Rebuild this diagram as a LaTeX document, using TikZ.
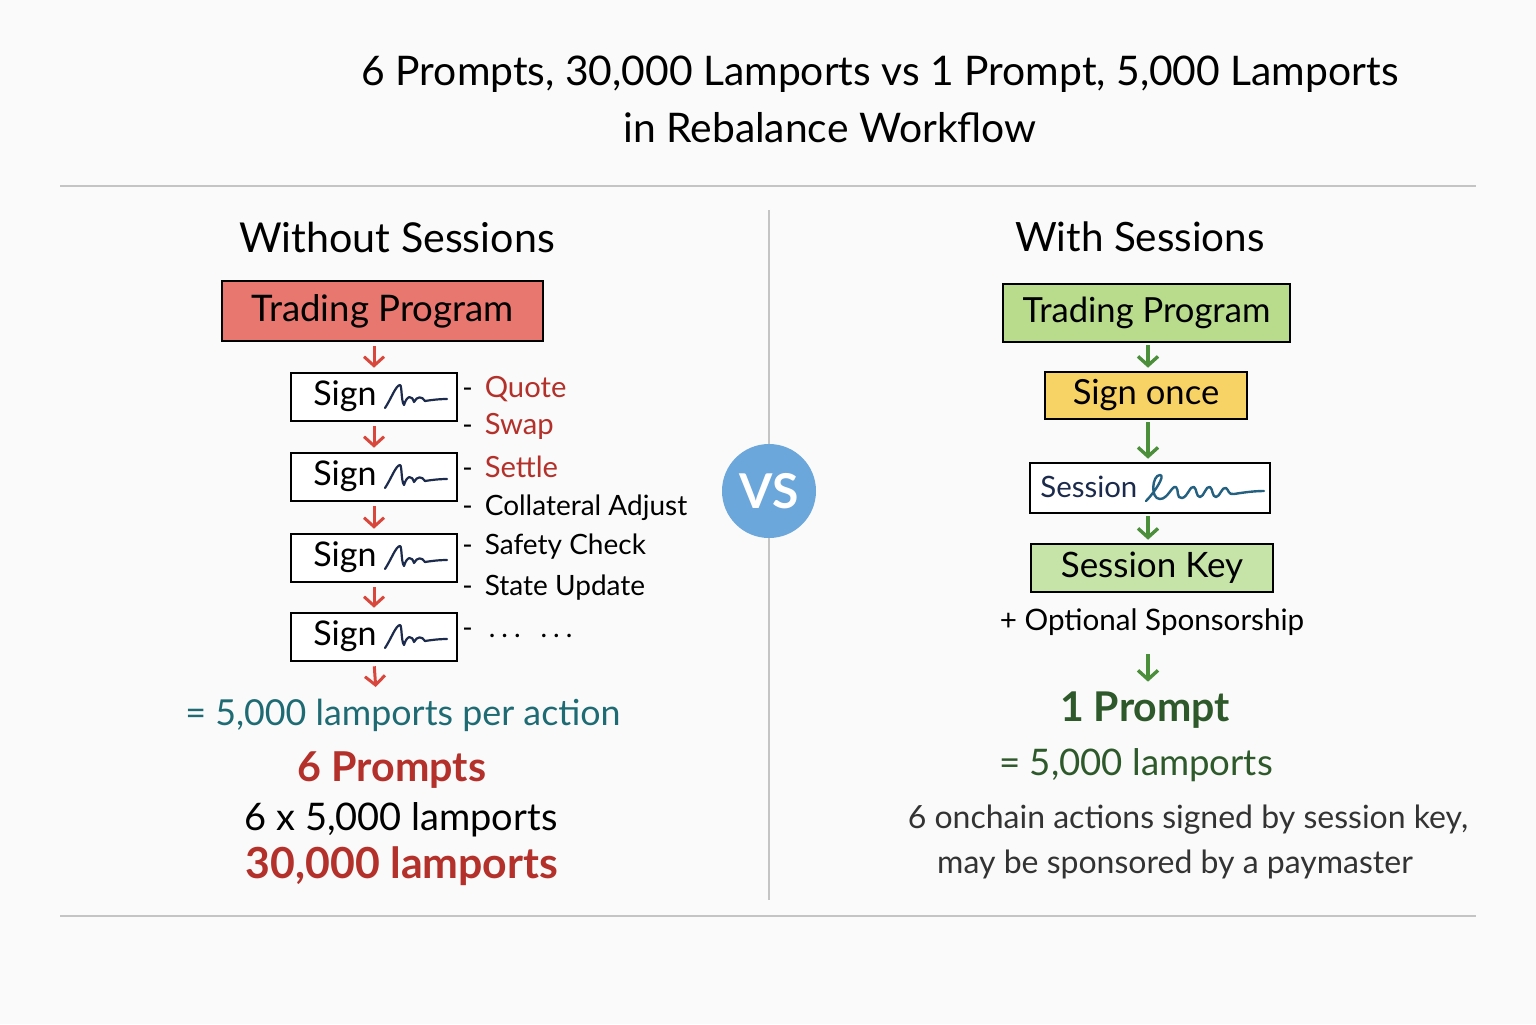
\documentclass[tikz,border=0pt]{standalone}
\usepackage{fontspec}
\usetikzlibrary{arrows.meta}
\setmainfont{Lato}
\definecolor{bgc}{HTML}{FAFAFA}
\definecolor{rulec}{HTML}{C4C4C4}
\definecolor{redfill}{HTML}{E8776F}
\definecolor{greenfill}{HTML}{B8DB8C}
\definecolor{yellowfill}{HTML}{F7D264}
\definecolor{keyfill}{HTML}{C6E3A8}
\definecolor{redtxt}{HTML}{B3312A}
\definecolor{redarrow}{HTML}{D9463B}
\definecolor{greenarrow}{HTML}{4B8F3A}
\definecolor{tealtxt}{HTML}{1F6B74}
\definecolor{dgreen}{HTML}{2E5A2B}
\definecolor{navy}{HTML}{1C2B4C}
\definecolor{sigblue}{HTML}{24607F}
\definecolor{vsblue}{HTML}{6BA7DB}
\definecolor{graytxt}{HTML}{333333}
\begin{document}
\begin{tikzpicture}[x=0.5pt,y=-0.5pt,
  box/.style={draw=black,line width=1.3pt,inner sep=0pt},
  redarr/.style={draw=redarrow,line width=1.5pt,-{Straight Barb[length=4.5pt,width=10pt]},shorten <=2pt,shorten >=2pt},
  grnarr/.style={draw=greenarrow,line width=1.7pt,-{Straight Barb[length=4.5pt,width=10pt]},shorten <=1pt,shorten >=1.5pt},
  item/.style={anchor=west,font=\fontsize{14}{16}\selectfont,inner sep=0pt},
  signature/.pic={
    \draw[navy,line width=1.1pt,line cap=round,line join=round]
      (0,11) .. controls (6,2) and (11,-12) .. (15,-12)
      .. controls (17,-12) and (16,4) .. (19,8)
      .. controls (22,-2) and (27,-2) .. (29,5)
      .. controls (32,-1) and (37,-1) .. (40,4)
      .. controls (46,3) and (54,2) .. (62,2);
  },
  longsig/.pic={
    \draw[sigblue,line width=1.2pt,line cap=round,line join=round]
      (0,12) .. controls (8,4) and (20,-14) .. (14,-14)
      .. controls (6,-14) and (4,10) .. (14,10)
      .. controls (22,10) and (26,-4) .. (30,-2)
      .. controls (33,0) and (30,10) .. (36,9)
      .. controls (42,8) and (44,-4) .. (48,-2)
      .. controls (51,0) and (50,8) .. (54,8)
      .. controls (58,8) and (60,-4) .. (64,-2)
      .. controls (67,0) and (66,8) .. (70,8)
      .. controls (74,8) and (76,-3) .. (80,-1)
      .. controls (83,1) and (82,6) .. (88,5)
      .. controls (100,3) and (110,2) .. (118,2);
  }
]
\useasboundingbox (0,0) rectangle (1536,1024);
\fill[bgc] (0,0) rectangle (1536,1024);

% title
\node[font=\fontsize{20.4}{24}\selectfont] (title1) at (880,74) {6 Prompts, 30,000 Lamports vs 1 Prompt, 5,000 Lamports};
\node[font=\fontsize{20.4}{24}\selectfont] (title2) at (830,128) {in Rebalance Workflow};

% rules
\coordinate (rtl) at (60,186); \coordinate (rtr) at (1476,186);
\coordinate (rbl) at (60,916); \coordinate (rbr) at (1476,916);
\draw[rulec,line width=0.8pt] (rtl) -- (rtr);
\draw[rulec,line width=0.8pt] (rbl) -- (rbr);

% VS
\node[circle,fill=vsblue,minimum size=47pt,inner sep=0pt,text=white,font=\fontsize{24}{26}\selectfont\bfseries] (vs) at (769,491) {VS};
\coordinate (vtop) at (769,210); \coordinate (vbot) at (769,900);
\draw[rulec,line width=0.8pt] (vtop) -- (vs.north);
\draw[rulec,line width=0.8pt] (vs.south) -- (vbot);

% headings
\node[font=\fontsize{20.6}{24}\selectfont] (hl) at (397,237) {Without Sessions};
\node[font=\fontsize{20.2}{24}\selectfont] (hr) at (1140,237) {With Sessions};

% LEFT
\node[box,fill=redfill,minimum width=160.5pt,minimum height=30pt,font=\fontsize{18.3}{21}\selectfont] (tpl) at (382.5,311) {Trading Program};

\foreach \n/\y in {1/397,2/477,3/558,4/637}{
  \node[box,fill=white,minimum width=83pt,minimum height=24pt] (s\n) at (374,\y) {};
  \node[anchor=west,inner sep=0pt,font=\fontsize{17}{19}\selectfont] (st\n) at (313,\y-1) {Sign};
  \pic at (385,\y) {signature};
}
\coordinate (lend) at (376,691);
\draw[redarr] (tpl.south -| s1.north) -- (s1.north);
\draw[redarr] (s1.south) -- (s2.north);
\draw[redarr] (s2.south) -- (s3.north);
\draw[redarr] (s3.south) -- (s4.north);
\draw[redarr] (s4.south) -- (lend);

\node[item] (i1) at (462,389) {-\hspace{6pt}\textcolor{redtxt}{\fontsize{14.6}{17}\selectfont Quote}};
\node[item] (i2) at (462,426) {-\hspace{6pt}\textcolor{redtxt}{\fontsize{14.6}{17}\selectfont Swap}};
\node[item] (i3) at (462,467) {-\hspace{6pt}\textcolor{redtxt}{\fontsize{14.6}{17}\selectfont Settle}};
\node[item] (i4) at (462,508) {-\hspace{6pt}Collateral Adjust};
\node[item] (i5) at (462,547) {-\hspace{6pt}Safety Check};
\node[item] (i6) at (462,588) {-\hspace{6pt}State Update};
\node[item] (i7) at (462,633) {-\hspace{8pt}.\hspace{3pt}.\hspace{3pt}.\hspace{10pt}.\hspace{3pt}.\hspace{3pt}.};

\node[text=tealtxt,font=\fontsize{17.9}{21}\selectfont] (per) at (403,715) {= 5,000 lamports per action};
\node[text=redtxt,font=\fontsize{20.6}{24}\selectfont\bfseries] (p6) at (392,770) {6 Prompts};
\node[font=\fontsize{19}{22}\selectfont] (mul) at (401,820) {6 x 5,000 lamports};
\node[text=redtxt,font=\fontsize{21.4}{25}\selectfont\bfseries] (tot) at (402,866) {30,000 lamports};

% RIGHT
\node[box,fill=greenfill,minimum width=143.5pt,minimum height=29pt,font=\fontsize{17.3}{20}\selectfont] (tpr) at (1146.5,313) {Trading Program};
\node[box,fill=yellowfill,minimum width=101pt,minimum height=23.5pt,font=\fontsize{17.3}{20}\selectfont] (once) at (1146,395.5) {Sign once};
\node[box,fill=white,minimum width=120pt,minimum height=25pt] (sess) at (1150,488) {};
\node[anchor=west,inner sep=0pt,text=navy,font=\fontsize{14.7}{17}\selectfont] (sesst) at (1040,487) {Session};
\pic at (1146,489) {longsig};
\node[box,fill=keyfill,minimum width=121pt,minimum height=24pt,font=\fontsize{17.5}{20}\selectfont] (key) at (1152,568) {Session Key};
\node[font=\fontsize{14.8}{17}\selectfont] (opt) at (1152,622) {+ Optional Sponsorship};
\coordinate (ostart) at (1148,652);
\node[text=dgreen,font=\fontsize{20.5}{24}\selectfont\bfseries] (p1) at (1145,710) {1 Prompt};
\node[text=dgreen,font=\fontsize{18.3}{21}\selectfont] (eq) at (1136,765) {= 5,000 lamports};
\node[text=graytxt,font=\fontsize{16}{19}\selectfont] (n1) at (1188,820) {6 onchain actions signed by session key,};
\node[text=graytxt,font=\fontsize{16}{19}\selectfont] (n2) at (1175,864) {may be sponsored by a paymaster};

\draw[grnarr] (tpr.south -| ostart) -- (once.north -| ostart);
\draw[grnarr] (once.south -| ostart) -- (sess.north -| ostart);
\draw[grnarr] (sess.south -| ostart) -- (key.north -| ostart);
\draw[grnarr] (ostart) -- (p1.north -| ostart);
\end{tikzpicture}
\end{document}
